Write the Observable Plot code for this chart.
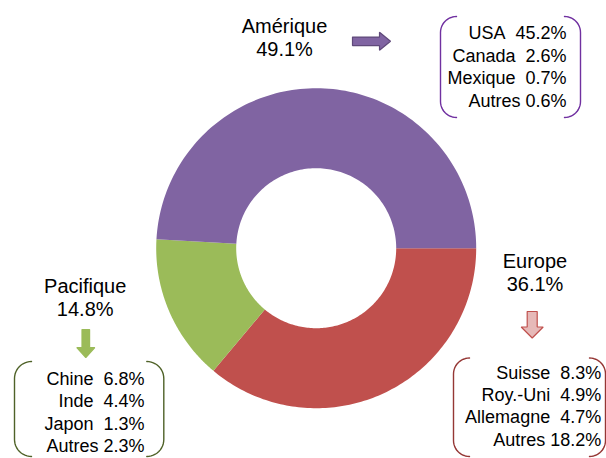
<!DOCTYPE html>
<html>
<head>
<meta charset="utf-8">
<script src="https://cdn.jsdelivr.net/npm/d3@7"></script>
<script src="https://cdn.jsdelivr.net/npm/@observablehq/plot@0.6"></script>
<style>
  html, body { margin: 0; padding: 0; background: #fff; }
  #chart svg { display: block; }
</style>
</head>
<body>
<div id="chart"></div>
<script>
// ---------- DATA ----------
const regions = ["Europe", "Pacifique", "Amérique"];
const regionShares = [36.1, 14.8, 49.1];

const ameriqueNames = ["USA", "Canada", "Mexique", "Autres"];
const ameriqueValues = [45.2, 2.6, 0.7, 0.6];

const europeNames = ["Suisse", "Roy.-Uni", "Allemagne", "Autres"];
const europeValues = [8.3, 4.9, 4.7, 18.2];

const pacifiqueNames = ["Chine", "Inde", "Japon", "Autres"];
const pacifiqueValues = [6.8, 4.4, 1.3, 2.3];

// ---------- STYLE / LAYOUT ----------
const W = 606, H = 458;
const colors = {"Europe": "#C0504D", "Pacifique": "#9BBB59", "Amérique": "#8064A2"};
const donut = {cx: 315.7, cy: 247.7, rOuter: 160, rInner: 80, start: 90};
const font = "'Liberation Sans', Arial, sans-serif";
const pct = v => d3.format(".1f")(v) + "%";
const NB = "\u00a0";

const panels = {
  "Amérique": {
    names: ameriqueNames, values: ameriqueValues,
    title: {x: 284, y1: 32, y2: 55},
    list: {xRight: 566, y0: 38.5, step: 22.5},
    bracket: {left: 440, right: 580, top: 16, bottom: 117, r: 16, color: "#7030A0"},
    arrow: {type: "right", x0: 352, x1: 390, yc: 40.8, shaft: 8.5, head: 18, headLen: 11,
            fill: "#8064A2", stroke: "#5F497A"}
  },
  "Pacifique": {
    names: pacifiqueNames, values: pacifiqueValues,
    title: {x: 84.7, y1: 292.3, y2: 315},
    list: {xRight: 144, y0: 384, step: 22.5},
    bracket: {left: 14, right: 163.3, top: 361, bottom: 456, r: 17, color: "#4F6228"},
    arrow: {type: "down", xc: 85.3, y0: 329, y1: 357, shaft: 7.6, head: 18, headLen: 10,
            fill: "#9BBB59", stroke: "#9BBB59"}
  },
  "Europe": {
    names: europeNames, values: europeValues,
    title: {x: 534.5, y1: 267.3, y2: 290.7},
    list: {xRight: 600.7, y0: 378.3, step: 22.3},
    bracket: {left: 453, right: 605, top: 357.5, bottom: 456, r: 16, color: "#953735"},
    arrow: {type: "down", xc: 531.7, y0: 311, y1: 337.5, shaft: 10, head: 22, headLen: 11,
            fill: "#E6B9B8", stroke: "#C0504D"}
  }
};

// ---------- GEOMETRY HELPERS ----------
const rad = a => a * Math.PI / 180;
function polar(r, a) {
  return {x: donut.cx + r * Math.sin(rad(a)), y: donut.cy - r * Math.cos(rad(a))};
}
let acc = 0;
const slices = regions.map((region, i) => {
  const a0 = donut.start + acc / 100 * 360;
  acc += regionShares[i];
  const a1 = donut.start + acc / 100 * 360;
  return {region, a0, a1};
});
function ringPoints(s) {
  const n = 120, pts = [];
  for (let k = 0; k <= n; k++) pts.push(polar(donut.rOuter, s.a0 + (s.a1 - s.a0) * k / n));
  for (let k = n; k >= 0; k--) pts.push(polar(donut.rInner, s.a0 + (s.a1 - s.a0) * k / n));
  pts.push(pts[0]);
  return pts;
}
function arcPts(cx, cy, r, a0, a1) {
  const pts = [];
  for (let k = 0; k <= 12; k++) {
    const a = rad(a0 + (a1 - a0) * k / 12);
    pts.push({x: cx + r * Math.cos(a), y: cy + r * Math.sin(a)});
  }
  return pts;
}
function bracketPts(xEdge, top, bottom, r, dir) {
  // dir = +1 opens to the right ("("), -1 opens to the left (")")
  if (dir > 0) {
    return [
      ...arcPts(xEdge + r, top + r, r, 270, 180),
      ...arcPts(xEdge + r, bottom - r, r, 180, 90)
    ];
  } else {
    return [
      ...arcPts(xEdge - r, top + r, r, -90, 0),
      ...arcPts(xEdge - r, bottom - r, r, 0, 90)
    ];
  }
}
function arrowPts(a) {
  if (a.type === "right") {
    const hs = a.shaft / 2, hh = a.head / 2, xh = a.x1 - a.headLen;
    return [
      {x: a.x0, y: a.yc - hs}, {x: xh, y: a.yc - hs}, {x: xh, y: a.yc - hh},
      {x: a.x1, y: a.yc}, {x: xh, y: a.yc + hh}, {x: xh, y: a.yc + hs},
      {x: a.x0, y: a.yc + hs}, {x: a.x0, y: a.yc - hs}
    ];
  } else {
    const hs = a.shaft / 2, hh = a.head / 2, yh = a.y1 - a.headLen;
    return [
      {x: a.xc - hs, y: a.y0}, {x: a.xc + hs, y: a.y0}, {x: a.xc + hs, y: yh},
      {x: a.xc + hh, y: yh}, {x: a.xc, y: a.y1}, {x: a.xc - hh, y: yh},
      {x: a.xc - hs, y: yh}, {x: a.xc - hs, y: a.y0}
    ];
  }
}

// ---------- MARKS ----------
const marks = [];
for (const s of slices) {
  marks.push(Plot.line(ringPoints(s), {x: "x", y: "y", fill: colors[s.region], stroke: "none", curve: "linear"}));
}
regions.forEach((region, i) => {
  const p = panels[region];
  // title
  marks.push(Plot.text([{x: p.title.x, y: p.title.y1, t: region}, {x: p.title.x, y: p.title.y2, t: pct(regionShares[i])}], {
    x: "x", y: "y", text: "t", textAnchor: "middle", lineAnchor: "bottom",
    fontSize: 20, fill: "#000"
  }));
  // arrow
  marks.push(Plot.line(arrowPts(p.arrow), {x: "x", y: "y", fill: p.arrow.fill, stroke: p.arrow.stroke, strokeWidth: 1.2, strokeLinejoin: "miter"}));
  // brackets
  const b = p.bracket;
  marks.push(Plot.line(bracketPts(b.left, b.top, b.bottom, b.r, 1), {x: "x", y: "y", stroke: b.color, strokeWidth: 1.4, curve: "linear"}));
  marks.push(Plot.line(bracketPts(b.right, b.top, b.bottom, b.r, -1), {x: "x", y: "y", stroke: b.color, strokeWidth: 1.4, curve: "linear"}));
  // list
  const rows = p.names.map((n, j) => ({
    x: p.list.xRight,
    y: p.list.y0 + j * p.list.step,
    t: n + (n === "Autres" ? NB : NB + NB) + pct(p.values[j])
  }));
  marks.push(Plot.text(rows, {
    x: "x", y: "y", text: "t", textAnchor: "end", lineAnchor: "bottom",
    fontSize: 18, fill: "#000"
  }));
});

const chart = Plot.plot({
  width: W, height: H,
  margin: 0,
  style: {fontFamily: font, background: "#fff", overflow: "visible"},
  x: {domain: [0, W], range: [0, W], axis: null},
  y: {domain: [0, H], range: [0, H], axis: null},
  marks
});
document.getElementById("chart").append(chart);
</script>
</body>
</html>
